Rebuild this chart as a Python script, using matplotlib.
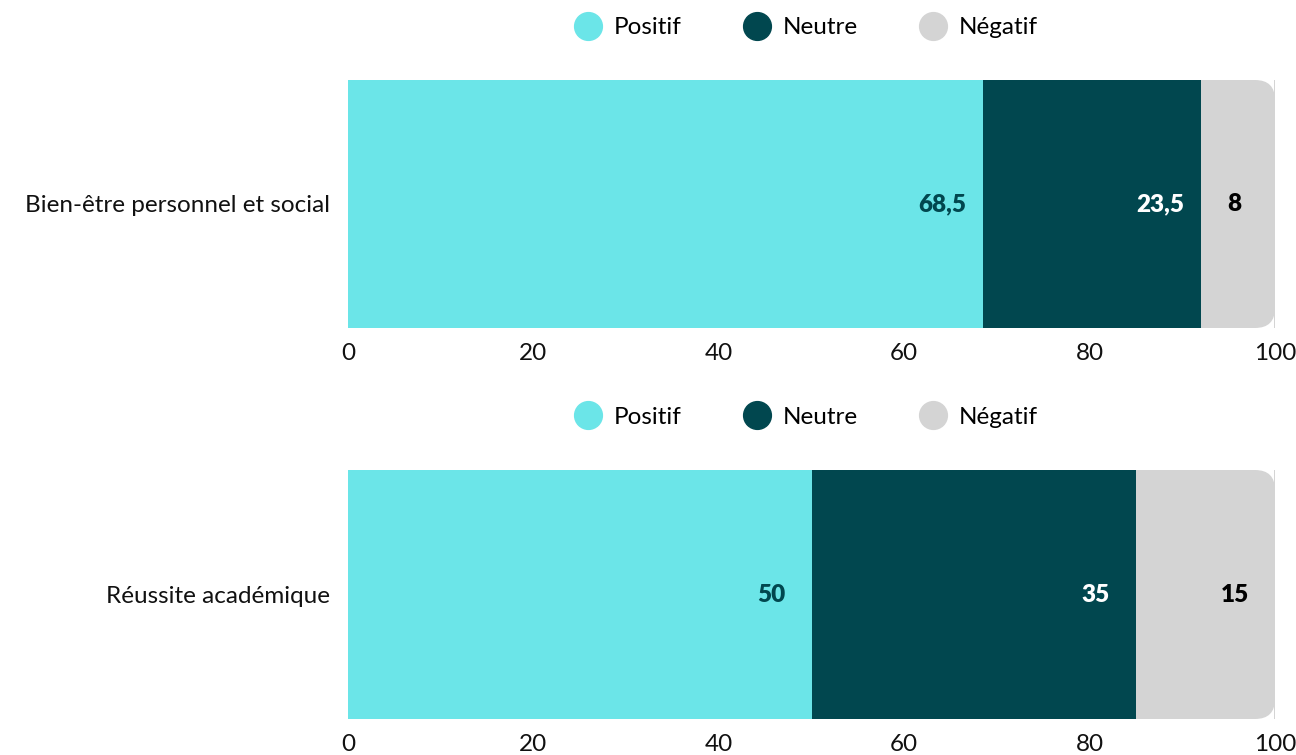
import matplotlib.pyplot as plt
from matplotlib.lines import Line2D
from matplotlib.patches import FancyBboxPatch

plt.rcParams['font.family'] = ['Lato', 'DejaVu Sans']

categories = ["Bien-être personnel et social", "Réussite académique"]
series = ["Positif", "Neutre", "Négatif"]
positif = [68.5, 50]
neutre = [23.5, 35]
negatif = [8, 15]
value_labels = [["68,5", "23,5", "8"], ["50", "35", "15"]]

colors = ["#6be5e8", "#01474f", "#d4d4d4"]
label_colors = ["#01474f", "white", "black"]

fig = plt.figure(figsize=(12.96, 7.55), dpi=100)
axes_boxes = [(348, 80, 328), (348, 470, 719)]
W, H = 1296, 755

for i, cat in enumerate(categories):
    left, top, bottom = axes_boxes[i]
    ax = fig.add_axes([left / W, (H - bottom) / H, 927 / W, (bottom - top) / H])
    vals = [positif[i], neutre[i], negatif[i]]

    # rounded right end of the bar
    px_x = 100 / 927
    px_y = 1 / (bottom - top)
    clip = FancyBboxPatch((-10, -0.5), 110, 1,
                          boxstyle="round,pad=0,rounding_size=%f" % (20 * px_x),
                          mutation_aspect=px_y / px_x,
                          transform=ax.transData, facecolor="none", edgecolor="none")
    ax.add_patch(clip)

    ax.axvline(100, color="#cccccc", lw=1.2, zorder=0)
    start = 0
    for j, v in enumerate(vals):
        bars = ax.barh(0, v, left=start, height=1, color=colors[j], zorder=2)
        for b in bars:
            b.set_clip_path(clip)
        ax.annotate(value_labels[i][j], xy=(start + v, 0), xytext=(-29, 0),
                    textcoords="offset points", ha="center", va="center",
                    fontsize=17.5, fontweight="heavy", color=label_colors[j], zorder=3)
        start += v

    ax.set_xlim(0, 100)
    ax.set_ylim(-0.5, 0.5)
    ax.set_xticks([0, 20, 40, 60, 80, 100])
    ax.set_yticks([0])
    ax.set_yticklabels([cat])
    ax.tick_params(axis="both", length=0, labelsize=17.5, colors="#111111")
    ax.tick_params(axis="x", pad=11)
    ax.tick_params(axis="y", pad=13)
    for s in ax.spines.values():
        s.set_visible(False)

    handles = [Line2D([], [], marker="o", ls="none", markersize=20,
                      markerfacecolor=c, markeredgecolor=c) for c in colors]
    ax.legend(handles, series, loc="lower center", bbox_to_anchor=(0.495, 1.13),
              ncol=3, frameon=False, fontsize=17.5, handlelength=1.0,
              handletextpad=0.55, columnspacing=2.6, borderaxespad=0)

fig.savefig("out.png", dpi=100)
